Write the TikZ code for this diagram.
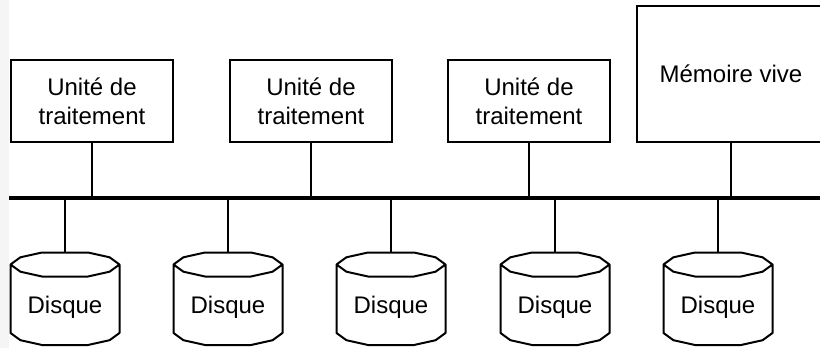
\documentclass[tikz,border=0pt]{standalone}
\usepackage{fontspec}
\setmainfont{Liberation Sans}
\usetikzlibrary{positioning}

\tikzset{
  unite/.style={draw, line width=2pt, minimum width=162pt, minimum height=82pt,
    inner sep=0pt, align=center, font=\fontsize{24}{29}\selectfont},
  memoire/.style={unite, minimum width=188pt, minimum height=136pt},
  lien/.style={line width=2pt},
  bus/.style={line width=4pt},
  disque/.style={line width=2pt, line join=round},
  etiquette/.style={font=\fontsize{24}{29}\selectfont, anchor=base, inner sep=0pt}
}

\begin{document}
\begin{tikzpicture}[x=1pt,y=-1pt]
\useasboundingbox (0,0) rectangle (820,348);
\fill[gray!8] (0,0) rectangle (9,348);

% unites et memoire
\node[unite]   (U1) at (92,101)      {Unité de\\traitement};
\node[unite]   (U2) [right=55pt of U1] {Unité de\\traitement};
\node[unite]   (U3) [right=54pt of U2] {Unité de\\traitement};
\node[memoire] (M)  at (731,74)      {Mémoire vive};

% bus
\coordinate (busG) at (9,198);
\coordinate (busD) at (820,198);
\draw[bus] (busG) -- (busD);

\foreach \u in {U1,U2,U3,M}
  \draw[lien] (\u.south) -- (\u.south |- busG);

% disques
\foreach \x [count=\i] in {65,228,391,555,718} {
  \coordinate (h\i) at (\x,252.5);
  \draw[disque, shift={(\x,264.5)}]
    (-54.5,0) -- (-44.6,-7.2) -- (-23,-12) -- (23,-12) -- (44.6,-7.2) -- (54.5,0)
    -- (44.6,7.2) -- (23,12) -- (-23,12) -- (-44.6,7.2) -- cycle
    (-54.5,0) -- (-54.5,68.5) -- (-44.6,75.7) -- (-23,80.5) -- (23,80.5)
    -- (44.6,75.7) -- (54.5,68.5) -- (54.5,0);
  \node[etiquette] (d\i) at (\x,313) {Disque};
  \draw[lien] (h\i |- busG) -- (h\i);
}

\end{tikzpicture}
\end{document}
